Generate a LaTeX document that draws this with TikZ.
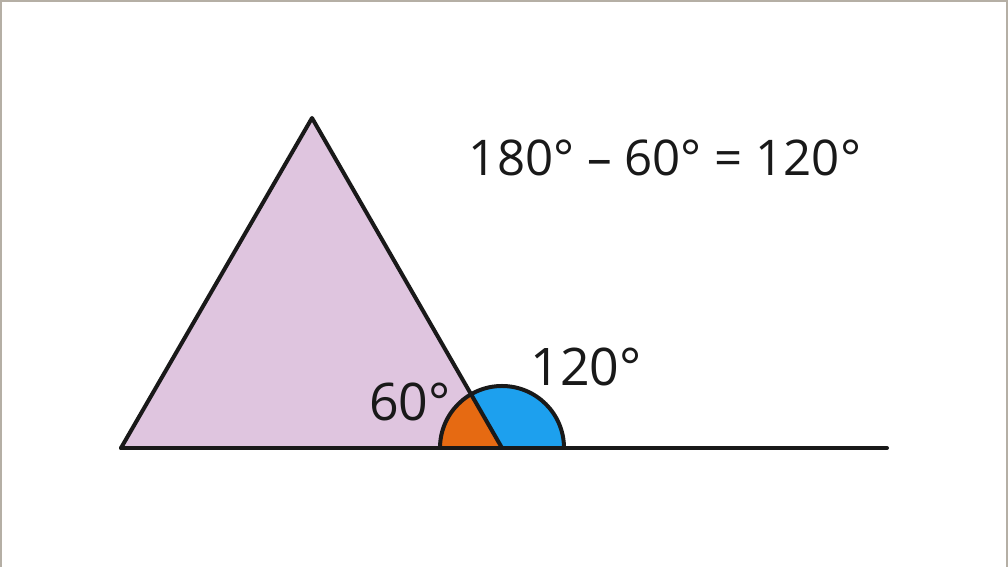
\documentclass[tikz,border=0pt]{standalone}
\usepackage{fontspec}
\setmainfont{Open Sans}
\definecolor{trifill}{HTML}{DFC5DF}
\definecolor{angorange}{HTML}{E66A12}
\definecolor{angblue}{HTML}{1DA0EE}
\definecolor{framegray}{HTML}{B5AFA5}
\tikzstyle{edge}=[line width=0.08cm,line cap=round,line join=round,black!90]
\tikzstyle{anglabel}=[inner sep=0pt,font=\fontsize{29.5}{34}\selectfont,text=black!90]
\begin{document}
\begin{tikzpicture}[x=0.02cm,y=0.02cm]
    \useasboundingbox (0,0) rectangle (1008,567);
    \draw[framegray,line width=0.04cm] (1,0) -- (1,566) -- (1007,566) -- (1007,0);
    \coordinate (a) at (121,119);
    \coordinate (b) at (312,449);
    \coordinate (c) at (502,119);
    \coordinate (e) at (887,119);

    % triangle and angles
    \fill[trifill] (a) -- (b) -- (c) -- cycle;
    \fill[angorange] (c) -- ++(180:62) arc (180:120:62) -- cycle;
    \fill[angblue] (c) -- ++(120:62) arc (120:0:62) -- cycle;
    \draw[edge] ([shift={(0:62)}]c) arc (0:180:62);
    \draw[edge] (a) -- (b) -- (c);
    \draw[edge] (a) -- (e);

    \node[anglabel] (l60) at (410,165) {60°};
    \node[anglabel] (l120) at (586,200) {120°};
    \node[anglabel,font=\fontsize{28}{33}\selectfont] (eq) at (665,409) {180° – 60° = 120°};
\end{tikzpicture}
\end{document}
